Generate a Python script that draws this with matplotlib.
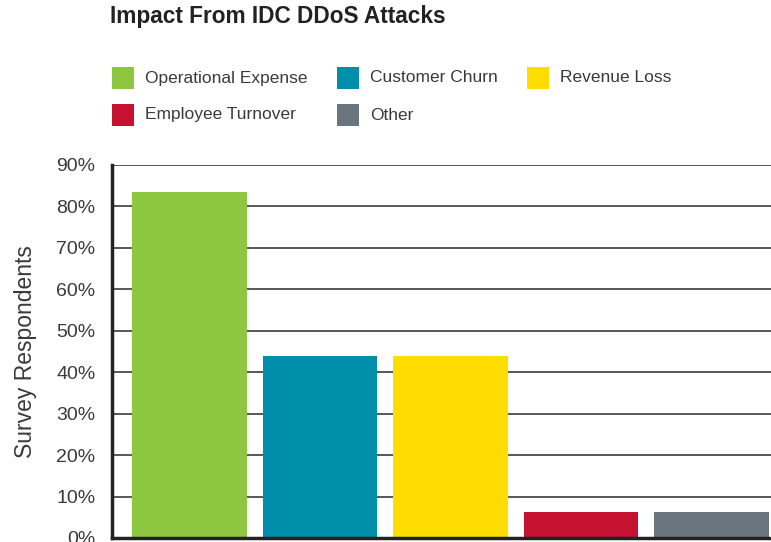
import matplotlib.pyplot as plt
from matplotlib.patches import Rectangle
from matplotlib.ticker import FuncFormatter

# data
categories = ["Operational Expense", "Customer Churn", "Revenue Loss",
              "Employee Turnover", "Other"]
values = [83.5, 43.8, 43.8, 6.3, 6.3]
colors = ["#8DC63F", "#008FAB", "#FFDD00", "#C41230", "#6A747C"]
yticks = [0, 10, 20, 30, 40, 50, 60, 70, 80, 90]

plt.rcParams['font.family'] = ['Liberation Sans', 'DejaVu Sans']

fig = plt.figure(figsize=(7.71, 5.42), dpi=100)
ax = fig.add_axes([112 / 771, 4 / 542, 1 - 112 / 771, (538 - 165) / 542])

x = list(range(len(categories)))
ax.bar(x, values, width=0.88, color=colors, zorder=3)

ax.set_xlim(-0.594, 4.456)
ax.set_ylim(0, 90)
ax.set_yticks(yticks)
ax.yaxis.set_major_formatter(FuncFormatter(lambda v, p: "%d%%" % v))
ax.set_xticks([])
ax.tick_params(axis='y', length=0, pad=12, labelsize=14, labelcolor='#3a3a3a')
ax.grid(axis='y', color='#4a4a4a', linewidth=1.3, zorder=1)

for s in ['top', 'right']:
    ax.spines[s].set_visible(False)
ax.spines['left'].set_linewidth(2.5)
ax.spines['left'].set_color('#222222')
ax.spines['bottom'].set_linewidth(2.5)
ax.spines['bottom'].set_color('#222222')
ax.spines['left'].set_zorder(4)
ax.spines['bottom'].set_zorder(4)

ax.set_ylabel("Survey Respondents", fontsize=16.5, color='#3a3a3a', labelpad=14)

fig.text(110 / 771, 1 - 17 / 542, "Impact From IDC DDoS Attacks",
         fontsize=16.3, fontweight='bold', color='#222222', va='center', ha='left')

# legend, two rows of three columns
col_x = [112, 337, 527]
row_y = [78, 115]
W, H = 771, 542
for i, (name, c) in enumerate(zip(categories, colors)):
    r, k = divmod(i, 3)
    px, py = col_x[k], row_y[r]
    fig.add_artist(Rectangle((px / W, 1 - (py + 11) / H), 22 / W, 22 / H,
                             facecolor=c, edgecolor='none',
                             transform=fig.transFigure))
    fig.text((px + 33) / W, 1 - py / H, name, fontsize=12.5,
             color='#3a3a3a', va='center', ha='left')

fig.savefig("out.png", dpi=100)
